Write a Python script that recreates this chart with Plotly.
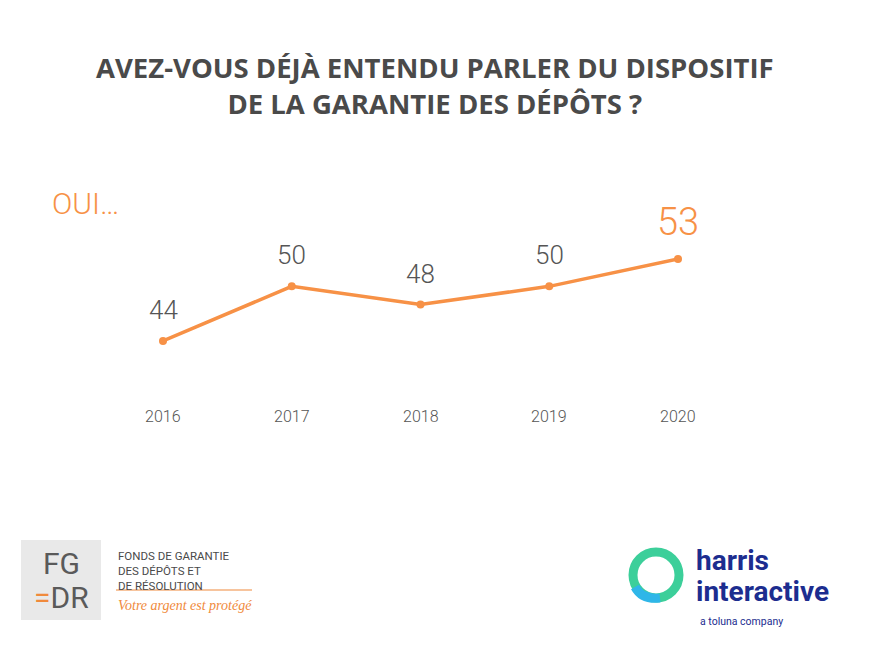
import plotly.graph_objects as go

years = [2016, 2017, 2018, 2019, 2020]
values = [44, 50, 48, 50, 53]
year_labels = ["2016", "2017", "2018", "2019", "2020"]

OFF = 8
W, H = 871 - OFF, 653 - OFF
ORANGE = "#f79146"
GRAY = "#555555"

def px(x): return (x - OFF) / W
def py(y): return 1 - (y - OFF) / H

fig = go.Figure()
fig.add_trace(go.Scatter(x=years, y=values, mode="lines+markers", cliponaxis=False,
                         line=dict(color=ORANGE, width=3.5),
                         marker=dict(color=ORANGE, size=8), hoverinfo="skip"))

def A(**k):
    k.setdefault("showarrow", False)
    k.setdefault("yanchor", "middle")
    k.setdefault("xanchor", "center")
    return k

ann = []
for i, (yr, v) in enumerate(zip(years, values)):
    last = i == len(years) - 1
    ann.append(A(x=yr, y=v, xref="x", yref="y", text=str(v),
                 yshift=37 if last else 31,
                 font=dict(family="Roboto", size=38 if last else 26, color=ORANGE if last else GRAY, weight=300)))
for yr, lab in zip(years, year_labels):
    ann.append(A(x=yr, y=py(416), xref="x", yref="paper", text=lab,
                 font=dict(family="Roboto", size=16, color=GRAY, weight=300)))

ann += [
    A(x=px(435), y=py(85), xref="paper", yref="paper",
      text="<b>AVEZ-VOUS DÉJÀ ENTENDU PARLER DU DISPOSITIF<br>DE LA GARANTIE DES DÉPÔTS ?</b>",
      font=dict(family="Open Sans", size=27.5, color="#4a4a4a"), align="center"),
    A(x=px(50), y=py(203), xref="paper", yref="paper", xanchor="left",
      text="OUI…", font=dict(family="Roboto", size=30, color=ORANGE, weight=300)),
    # FGDR logo
    A(x=px(61), y=py(563), xref="paper", yref="paper",
      text="FG", font=dict(family="Roboto", size=30, color="#5a5a5a")),
    A(x=px(61), y=py(597), xref="paper", yref="paper",
      text="<span style='color:#f08a3c'>=</span>DR", font=dict(family="Roboto", size=30, color="#5a5a5a")),
    A(x=px(116), y=py(571), xref="paper", yref="paper", xanchor="left", align="left",
      text="FONDS DE GARANTIE<br>DES DÉPÔTS ET<br>DE RÉSOLUTION",
      font=dict(family="Roboto", size=11.5, color="#4a4a4a")),
    A(x=px(116), y=py(605), xref="paper", yref="paper", xanchor="left",
      text="<i>Votre argent est protégé</i>",
      font=dict(family="Liberation Serif", size=14, color="#f08a3c")),
    # Harris logo
    A(x=px(694), y=py(560), xref="paper", yref="paper", xanchor="left",
      text="<b>harris</b>", font=dict(family="Roboto", size=28, color="#1c2d8f")),
    A(x=px(694), y=py(591), xref="paper", yref="paper", xanchor="left",
      text="<b>interactive</b>", font=dict(family="Roboto", size=28, color="#1c2d8f")),
    A(x=px(698), y=py(621), xref="paper", yref="paper", xanchor="left",
      text="a toluna company", font=dict(family="Roboto", size=10.5, color="#1c2d8f")),
]

shapes = [
    dict(type="rect", xref="paper", yref="paper", x0=px(21), x1=px(101), y0=py(620), y1=py(540),
         fillcolor="#e9e9e9", line=dict(width=0), layer="below"),
    dict(type="line", xref="paper", yref="paper", x0=px(116), x1=px(252), y0=py(590), y1=py(590),
         line=dict(color="#f08a3c", width=1.2)),
    dict(type="circle", xref="paper", yref="paper", x0=px(633), x1=px(679), y0=py(598), y1=py(552),
         line=dict(color="#3ccf9a", width=9)),
    dict(type="path", xref="paper", yref="paper",
         path=f"M {px(635)},{py(587)} Q {px(642)},{py(600)} {px(660)},{py(598)}",
         line=dict(color="#2fb6e8", width=9)),
]

fig.update_layout(
    width=W, height=H, margin=dict(l=0, r=0, t=0, b=0),
    plot_bgcolor="white", paper_bgcolor="white", showlegend=False,
    xaxis=dict(domain=[px(163), px(678)], range=[2016, 2020], visible=False),
    yaxis=dict(domain=[py(377.4), py(231.7)], range=[40, 56], visible=False),
    annotations=ann, shapes=shapes,
)
fig.write_html("out.html")
